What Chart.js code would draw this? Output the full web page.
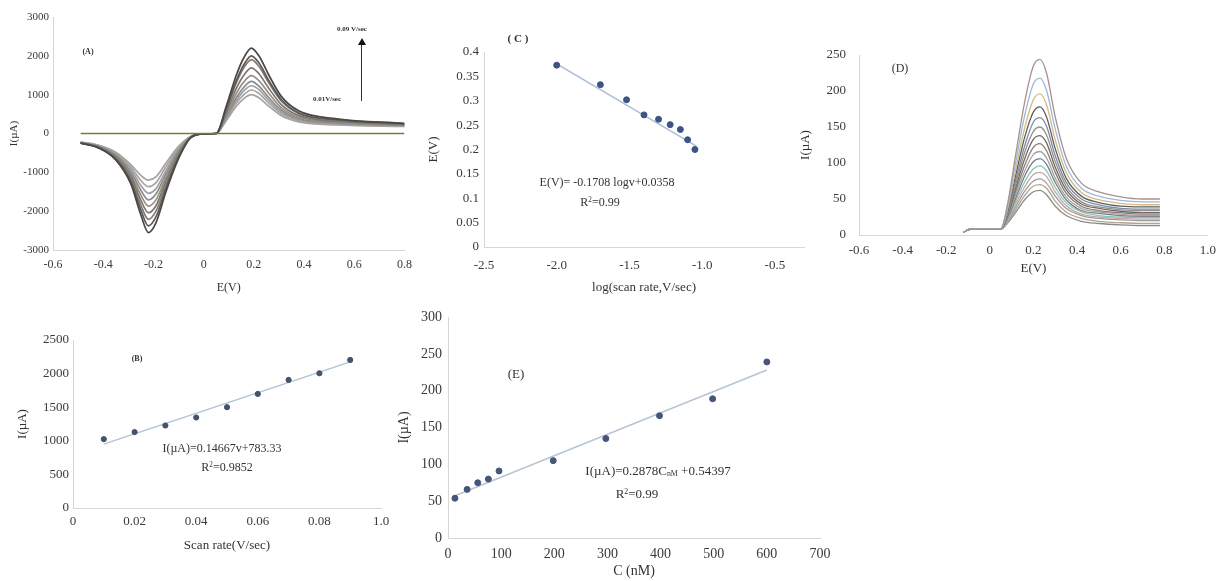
<!DOCTYPE html>
<html>
<head>
<meta charset="utf-8">
<script src="https://cdn.jsdelivr.net/npm/chart.js@4.4.0/dist/chart.umd.min.js"></script>
<style>
  html, body { margin: 0; padding: 0; background: #fff; }
  #page { position: relative; width: 1224px; height: 581px; overflow: hidden; font-family: "Liberation Serif", "DejaVu Serif", serif; color: #333; }
  canvas { position: absolute; }
  .note { position: absolute; transform: translate(-50%, -50%); white-space: nowrap; line-height: 1; }
  .note sub { font-size: 0.6em; vertical-align: -0.2em; }
  .note sup { font-size: 0.6em; vertical-align: 0.5em; }
</style>
</head>
<body>
<div id="page">
  <canvas id="chartA" width="420" height="300" style="left:0;top:0"></canvas>
  <canvas id="chartB" width="420" height="281" style="left:0;top:300px"></canvas>
  <canvas id="chartC" width="400" height="300" style="left:420px;top:0"></canvas>
  <canvas id="chartD" width="444" height="300" style="left:780px;top:0"></canvas>
  <canvas id="chartE" width="450" height="281" style="left:390px;top:300px"></canvas>

  <!-- panel annotations -->
  <div class="note" style="left:88px;top:52px;font-size:8px;font-weight:bold">(A)</div>
  <div class="note" style="left:352px;top:29px;font-size:7px;font-weight:bold">0.09 V/sec</div>
  <div class="note" style="left:327px;top:99px;font-size:7px;font-weight:bold">0.01V/sec</div>
  <div style="position:absolute;left:361px;top:44px;width:1px;height:57px;background:#333"></div>
  <div style="position:absolute;left:358px;top:38px;width:0;height:0;border-left:4px solid transparent;border-right:4px solid transparent;border-bottom:7px solid #111"></div>

  <div class="note" style="left:137px;top:359px;font-size:8px;font-weight:bold">(B)</div>
  <div class="note" style="left:222px;top:448px;font-size:12px">I(µA)=0.14667v+783.33</div>
  <div class="note" style="left:227px;top:467px;font-size:12px">R<sup>2</sup>=0.9852</div>

  <div class="note" style="left:518px;top:38px;font-size:11px;font-weight:bold">( C )</div>
  <div class="note" style="left:607px;top:182px;font-size:12px">E(V)= -0.1708 logv+0.0358</div>
  <div class="note" style="left:600px;top:202px;font-size:12px">R<sup>2</sup>=0.99</div>

  <div class="note" style="left:900px;top:68px;font-size:12px">(D)</div>

  <div class="note" style="left:516px;top:373px;font-size:13px">(E)</div>
  <div class="note" style="left:658px;top:471px;font-size:13px">I(µA)=0.2878C<sub>nM</sub> +0.54397</div>
  <div class="note" style="left:637px;top:493px;font-size:13px">R<sup>2</sup>=0.99</div>
</div>

<script>
const SERIF = '"Liberation Serif", "DejaVu Serif", serif';

// ---- (A) cyclic voltammograms, 0.01 .. 0.09 V/sec ----
const cvPotential = [-0.49, -0.42, -0.35, -0.29, -0.25, -0.22, -0.19, -0.15, -0.10, -0.05, 0.00, 0.05,
                     0.09, 0.13, 0.16, 0.19, 0.22, 0.26, 0.31, 0.38, 0.53, 0.80];
const cv001 = [-220, -300, -480, -800, -1080, -1200, -1120, -760, -330, -70, -10, 0, 330, 700, 900, 1000, 920, 700, 460, 300, 220, 180];
const cv002 = [-220, -310, -500, -860, -1210, -1370, -1270, -850, -370, -70, -10, 0, 370, 780, 1000, 1120, 1030, 780, 510, 330, 240, 190];
const cv003 = [-230, -320, -530, -920, -1340, -1540, -1420, -950, -410, -80, -10, 0, 400, 850, 1100, 1230, 1130, 850, 550, 350, 255, 200];
const cv004 = [-230, -330, -560, -990, -1460, -1710, -1560, -1040, -450, -80, -10, 0, 430, 920, 1190, 1340, 1220, 920, 600, 380, 270, 210];
const cv005 = [-240, -340, -580, -1050, -1590, -1870, -1710, -1130, -490, -90, -10, 0, 480, 1030, 1330, 1490, 1360, 1030, 660, 420, 290, 220];
const cv006 = [-240, -340, -610, -1110, -1720, -2040, -1860, -1220, -530, -90, -10, 0, 540, 1160, 1500, 1690, 1540, 1160, 740, 460, 315, 230];
const cv007 = [-240, -350, -630, -1180, -1850, -2210, -2000, -1320, -570, -90, -10, 0, 610, 1300, 1690, 1900, 1730, 1300, 830, 510, 345, 240];
const cv008 = [-250, -360, -660, -1240, -1970, -2380, -2150, -1410, -610, -100, -10, 0, 640, 1360, 1770, 2000, 1820, 1360, 870, 530, 355, 250];
const cv009 = [-250, -370, -680, -1300, -2100, -2550, -2300, -1500, -650, -100, -10, 0, 700, 1500, 1950, 2200, 2000, 1500, 950, 580, 380, 260];
const cvCurves = [cv001, cv002, cv003, cv004, cv005, cv006, cv007, cv008, cv009];
const cvColors = ['#a3a3a3', '#ada59c', '#97a2ae', '#8a8a8a', '#9a8e7d', '#767676', '#84796e', '#5c5753', '#484848'];
const cvBaseE = [-0.49, 0.80];
const cvBaseI = [0, 0];
const aXTicks = [-0.6, -0.4, -0.2, 0, 0.2, 0.4, 0.6, 0.8];
const aXLabels = ['-0.6', '-0.4', '-0.2', '0', '0.2', '0.4', '0.6', '0.8'];
const aYTicks = [-3000, -2000, -1000, 0, 1000, 2000, 3000];
const aYLabels = ['-3000', '-2000', '-1000', '0', '1000', '2000', '3000'];

// ---- (B) peak current vs scan rate ----
const scanRate = [0.01, 0.02, 0.03, 0.04, 0.05, 0.06, 0.07, 0.08, 0.09];
const peakCurrent = [1025, 1130, 1228, 1347, 1500, 1698, 1906, 2005, 2203];
const bFitX = [0.01, 0.09];
const bFitY = [950, 2175];
const bXTicks = [0, 0.02, 0.04, 0.06, 0.08, 0.1];
const bXLabels = ['0', '0.02', '0.04', '0.06', '0.08', '1.0'];
const bYTicks = [0, 500, 1000, 1500, 2000, 2500];
const bYLabels = ['0', '500', '1000', '1500', '2000', '2500'];

// ---- (C) peak potential vs log(scan rate) ----
const logRate = [-2.0, -1.70, -1.52, -1.40, -1.30, -1.22, -1.15, -1.10, -1.05];
const peakPotential = [0.373, 0.333, 0.302, 0.271, 0.262, 0.251, 0.241, 0.220, 0.200];
const cFitX = [-1.98, -1.04];
const cFitY = [0.372, 0.207];
const cXTicks = [-2.5, -2.0, -1.5, -1.0, -0.5];
const cXLabels = ['-2.5', '-2.0', '-1.5', '-1.0', '-0.5'];
const cYTicks = [0, 0.05, 0.1, 0.15, 0.2, 0.25, 0.3, 0.35, 0.4];
const cYLabels = ['0', '0.05', '0.1', '0.15', '0.2', '0.25', '0.3', '0.35', '0.4'];

// ---- (D) DPV curves at increasing concentration ----
const dpvPotential = [-0.12, -0.09, 0.05, 0.08, 0.12, 0.16, 0.20, 0.23, 0.26, 0.30, 0.35, 0.42, 0.50, 0.60, 0.70, 0.78];
const dpv01 = [4, 8, 8, 41, 114, 185, 235, 244, 225, 164, 107, 72, 60, 53, 50, 50];
const dpv02 = [4, 8, 8, 37, 103, 166, 210, 218, 201, 147, 96, 65, 54, 48, 46, 46];
const dpv03 = [4, 8, 8, 34, 93, 149, 188, 196, 181, 132, 87, 59, 49, 44, 42, 42];
const dpv04 = [4, 8, 8, 32, 85, 136, 171, 178, 164, 120, 79, 54, 45, 40, 39, 39];
const dpv05 = [4, 8, 8, 30, 78, 124, 157, 163, 151, 110, 73, 50, 42, 37, 36, 36];
const dpv06 = [4, 8, 8, 28, 72, 115, 144, 150, 139, 102, 68, 46, 39, 35, 34, 34];
const dpv07 = [4, 8, 8, 26, 67, 106, 133, 138, 128, 94, 63, 43, 37, 33, 31, 31];
const dpv08 = [4, 8, 8, 25, 62, 97, 122, 127, 117, 87, 58, 40, 34, 31, 29, 29];
const dpv09 = [4, 8, 8, 23, 57, 89, 112, 116, 107, 79, 53, 37, 32, 29, 27, 27];
const dpv10 = [4, 8, 8, 22, 52, 82, 102, 106, 98, 73, 49, 34, 30, 27, 26, 26];
const dpv11 = [4, 8, 8, 20, 48, 74, 92, 96, 89, 66, 45, 32, 27, 25, 24, 24];
const dpv12 = [4, 8, 8, 19, 44, 67, 84, 87, 81, 60, 41, 29, 25, 23, 22, 22];
const dpv13 = [4, 8, 8, 18, 40, 61, 75, 78, 72, 54, 37, 27, 23, 21, 20, 20];
const dpv14 = [4, 8, 8, 17, 36, 55, 68, 70, 65, 47, 32, 23, 19, 17, 16, 16];
const dpv15 = [4, 8, 8, 16, 32, 49, 60, 62, 56, 40, 27, 19, 16, 14, 13, 13];
const dpvCurves = [dpv01, dpv02, dpv03, dpv04, dpv05, dpv06, dpv07, dpv08, dpv09, dpv10, dpv11, dpv12, dpv13, dpv14, dpv15];
const dpvColors = ['#a89090', '#9db9d8', '#d4bb82', '#5e5e5e', '#7a8ca6', '#9a8f86', '#6a6a6a', '#8d7a70',
                   '#a4a4a4', '#777c85', '#86c6b9', '#c9a6a6', '#9c9c9c', '#b0a590', '#8a8a8a'];
const dXTicks = [-0.6, -0.4, -0.2, 0, 0.2, 0.4, 0.6, 0.8, 1.0];
const dXLabels = ['-0.6', '-0.4', '-0.2', '0', '0.2', '0.4', '0.6', '0.8', '1.0'];
const dYTicks = [0, 50, 100, 150, 200, 250];
const dYLabels = ['0', '50', '100', '150', '200', '250'];

// ---- (E) calibration, peak current vs concentration ----
const concentration = [13, 36, 56, 76, 96, 198, 297, 398, 498, 600];
const calCurrent = [54, 66, 75, 80, 91, 105, 135, 166, 189, 239];
const eFitX = [12, 600];
const eFitY = [57, 228];
const eXTicks = [0, 100, 200, 300, 400, 500, 600, 700];
const eXLabels = ['0', '100', '200', '300', '400', '500', '600', '700'];
const eYTicks = [0, 50, 100, 150, 200, 250, 300];
const eYLabels = ['0', '50', '100', '150', '200', '250', '300'];

// pair two arrays into {x, y} points
function points(xs, ys) {
    return xs.map((x, i) => ({ x: x, y: ys[i] }));
}

// linear axis with fixed ticks and a fixed box size so the plot area lands where the figure has it
function buildScale(o) {
    return {
        type: 'linear',
        position: o.position,
        min: o.min,
        max: o.max,
        grid: { display: false, drawTicks: false },
        border: { display: true, color: '#d6d6d6', width: 1 },
        afterBuildTicks: s => { s.ticks = o.ticks.map(v => ({ value: v })); },
        afterFit: s => {
            if (o.position === 'bottom') s.height = o.size;
            else s.width = o.size;
        },
        ticks: {
            autoSkip: false,
            maxRotation: 0,
            padding: o.pad,
            color: '#3a3a3a',
            font: { family: SERIF, size: o.font },
            callback: (v, i) => o.labels[i]
        },
        title: {
            display: true,
            text: o.title,
            color: '#333',
            font: { family: SERIF, size: o.font },
            padding: o.titlePad
        }
    };
}

function makeChart(id, datasets, padding, xScale, yScale) {
    const ctx = document.getElementById(id).getContext('2d');
    return new Chart(ctx, {
        type: 'scatter',
        data: { datasets: datasets },
        options: {
            responsive: false,
            animation: false,
            devicePixelRatio: 1,
            layout: { padding: padding },
            plugins: { legend: { display: false }, tooltip: { enabled: false } },
            scales: { x: xScale, y: yScale }
        }
    });
}

function curveSet(xs, ys, color, width) {
    return {
        type: 'line',
        data: points(xs, ys),
        borderColor: color,
        borderWidth: width,
        pointRadius: 0,
        cubicInterpolationMode: 'monotone',
        fill: false
    };
}

function fitSet(xs, ys, color) {
    return {
        type: 'line',
        data: points(xs, ys),
        borderColor: color,
        borderWidth: 1.5,
        pointRadius: 0,
        fill: false
    };
}

function markerSet(xs, ys, color, r) {
    return {
        data: points(xs, ys),
        backgroundColor: color,
        borderColor: color,
        pointRadius: r,
        showLine: false
    };
}

// (A) - flat return line first so it is drawn on top
const aSets = [curveSet(cvBaseE, cvBaseI, '#6f7f3c', 1.6)];
cvCurves.slice().reverse().forEach((c, i) => {
    aSets.push(curveSet(cvPotential, c, cvColors[cvColors.length - 1 - i], 1.7));
});
makeChart('chartA', aSets, { top: 17, right: 11, left: 0, bottom: 0 },
    buildScale({ position: 'bottom', min: -0.6, max: 0.8, ticks: aXTicks, labels: aXLabels, size: 50, pad: 8, font: 12,
                 title: 'E(V)', titlePad: { top: 0, bottom: 5 } }),
    buildScale({ position: 'left', min: -3000, max: 3000, ticks: aYTicks, labels: aYLabels, size: 53, pad: 4, font: 11,
                 title: 'I(µA)', titlePad: { top: 8, bottom: 0 } }));

// (B)
makeChart('chartB', [
        markerSet(scanRate, peakCurrent, '#44526e', 2.6),
        fitSet(bFitX, bFitY, '#b4c3d4')
    ], { top: 40, right: 39, left: 0, bottom: 0 },
    buildScale({ position: 'bottom', min: 0, max: 0.1, ticks: bXTicks, labels: bXLabels, size: 73, pad: 6, font: 13,
                 title: 'Scan rate(V/sec)', titlePad: { top: 0, bottom: 28 } }),
    buildScale({ position: 'left', min: 0, max: 2500, ticks: bYTicks, labels: bYLabels, size: 73, pad: 4, font: 13,
                 title: 'I(µA)', titlePad: { top: 15, bottom: 0 } }));

// (C)
makeChart('chartC', [
        markerSet(logRate, peakPotential, '#3d5385', 3),
        fitSet(cFitX, cFitY, '#a9bdd6')
    ], { top: 52, right: 16, left: 0, bottom: 0 },
    buildScale({ position: 'bottom', min: -2.5, max: -0.3, ticks: cXTicks, labels: cXLabels, size: 53, pad: 11, font: 13,
                 title: 'log(scan rate,V/sec)', titlePad: { top: 0, bottom: 5 } }),
    buildScale({ position: 'left', min: 0, max: 0.4, ticks: cYTicks, labels: cYLabels, size: 64, pad: 5, font: 13,
                 title: 'E(V)', titlePad: { top: 6, bottom: 0 } }));

// (D)
const dSets = dpvCurves.map((c, i) => curveSet(dpvPotential, c, dpvColors[i], 1.3));
makeChart('chartD', dSets, { top: 55, right: 10, left: 0, bottom: 0 },
    buildScale({ position: 'bottom', min: -0.6, max: 1.0, ticks: dXTicks, labels: dXLabels, size: 65, pad: 8, font: 13,
                 title: 'E(V)', titlePad: { top: 0, bottom: 24 } }),
    buildScale({ position: 'left', min: 0, max: 250, ticks: dYTicks, labels: dYLabels, size: 79, pad: 13, font: 13,
                 title: 'I(µA)', titlePad: { top: 18, bottom: 0 } }));

// (E)
makeChart('chartE', [
        markerSet(concentration, calCurrent, '#46557a', 3),
        fitSet(eFitX, eFitY, '#b7c4d2')
    ], { top: 17, right: 20, left: 0, bottom: 0 },
    buildScale({ position: 'bottom', min: 0, max: 700, ticks: eXTicks, labels: eXLabels, size: 43, pad: 8, font: 14,
                 title: 'C (nM)', titlePad: { top: 0, bottom: 1 } }),
    buildScale({ position: 'left', min: 0, max: 300, ticks: eYTicks, labels: eYLabels, size: 58, pad: 6, font: 14,
                 title: 'I(µA)', titlePad: { top: 6, bottom: 0 } }));
</script>
</body>
</html>
